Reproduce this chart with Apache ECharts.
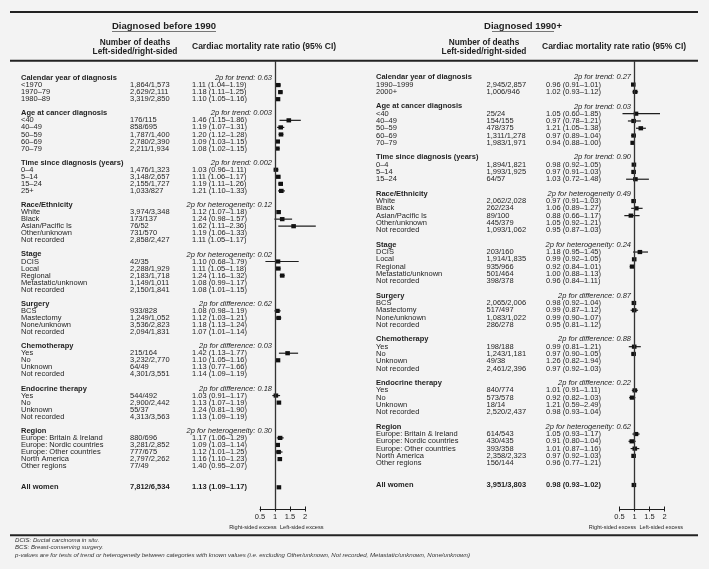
<!DOCTYPE html>
<html><head><meta charset="utf-8">
<script src="https://cdn.jsdelivr.net/npm/echarts@6/dist/echarts.min.js"></script>
<style>html,body{margin:0;padding:0;background:#f3f3f3}#c{width:709px;height:569px}</style>
</head><body><div id="c"></div>
<script>
// ---------- DATA ----------
const groupNames = ["Calendar year of diagnosis","Age at cancer diagnosis","Time since diagnosis (years)","Race/Ethnicity","Stage","Surgery","Chemotherapy","Endocrine therapy","Region"];

// Diagnosed before 1990
const pBefore = ["2p for trend: 0.63","2p for trend: 0.003","2p for trend: 0.002","2p for heterogeneity: 0.12","2p for heterogeneity: 0.02","2p for difference: 0.62","2p for difference: 0.03","2p for difference: 0.18","2p for heterogeneity: 0.30"];
const catsBefore = [["<1970","1970–79","1980–89"],["<40","40–49","50–59","60–69","70–79"],["0–4","5–14","15–24","25+"],["White","Black","Asian/Pacific Is","Other/unknown","Not recorded"],["DCIS","Local","Regional","Metastatic/unknown","Not recorded"],["BCS","Mastectomy","None/unknown","Not recorded"],["Yes","No","Unknown","Not recorded"],["Yes","No","Unknown","Not recorded"],["Europe: Britain & Ireland","Europe: Nordic countries","Europe: Other countries","North America","Other regions"]];
const deathsBefore = ["1,864/1,573","2,629/2,111","3,319/2,850","176/115","858/695","1,787/1,400","2,780/2,390","2,211/1,934","1,476/1,323","3,148/2,657","2,155/1,727","1,033/827","3,974/3,348","173/137","76/52","731/570","2,858/2,427","42/35","2,288/1,929","2,183/1,718","1,149/1,011","2,150/1,841","933/828","1,249/1,052","3,536/2,823","2,094/1,831","215/164","3,232/2,770","64/49","4,301/3,551","544/492","2,900/2,442","55/37","4,313/3,563","880/696","3,281/2,852","777/675","2,797/2,262","77/49"];
const rrBefore = [1.11,1.18,1.10, 1.46,1.19,1.20,1.09,1.08, 1.03,1.11,1.19,1.21, 1.12,1.24,1.62,1.19,1.11, 1.10,1.11,1.24,1.08,1.08, 1.08,1.12,1.18,1.07, 1.42,1.10,1.13,1.14, 1.03,1.13,1.24,1.13, 1.17,1.09,1.12,1.16,1.40];
const loBefore = [1.04,1.11,1.05, 1.15,1.07,1.12,1.03,1.02, 0.96,1.06,1.11,1.10, 1.07,0.98,1.11,1.06,1.05, 0.68,1.05,1.16,0.99,1.01, 0.98,1.03,1.13,1.01, 1.13,1.05,0.77,1.09, 0.91,1.07,0.81,1.09, 1.06,1.03,1.01,1.10,0.95];
const hiBefore = [1.19,1.25,1.16, 1.86,1.31,1.28,1.15,1.15, 1.11,1.17,1.26,1.33, 1.18,1.57,2.36,1.33,1.17, 1.79,1.18,1.32,1.17,1.15, 1.19,1.21,1.24,1.14, 1.77,1.16,1.66,1.19, 1.17,1.19,1.90,1.19, 1.29,1.14,1.25,1.23,2.07];
const shownBefore = [1,1,1, 1,1,1,1,1, 1,1,1,1, 1,1,1,0,0, 1,1,1,0,0, 1,1,0,0, 1,1,0,0, 1,1,0,0, 1,1,1,1,0];
const totalBefore = {deaths:"7,812/6,534", rr:1.13, lo:1.09, hi:1.17};

// Diagnosed 1990+
const pAfter = ["2p for trend: 0.27","2p for trend: 0.03","2p for trend: 0.90","2p for heterogeneity 0.49","2p for heterogeneity: 0.24","2p for difference: 0.87","2p for difference: 0.88","2p for difference: 0.22","2p for heterogeneity: 0.62"];
const catsAfter = [["1990–1999","2000+"],["<40","40–49","50–59","60–69","70–79"],["0–4","5–14","15–24"],["White","Black","Asian/Pacific Is","Other/unknown","Not recorded"],["DCIS","Local","Regional","Metastatic/unknown","Not recorded"],["BCS","Mastectomy","None/unknown","Not recorded"],["Yes","No","Unknown","Not recorded"],["Yes","No","Unknown","Not recorded"],["Europe: Britain & Ireland","Europe: Nordic countries","Europe: Other countries","North America","Other regions"]];
const deathsAfter = ["2,945/2,857","1,006/946","25/24","154/155","478/375","1,311/1,278","1,983/1,971","1,894/1,821","1,993/1,925","64/57","2,062/2,028","262/234","89/100","445/379","1,093/1,062","203/160","1,914/1,835","935/966","501/464","398/378","2,065/2,006","517/497","1,083/1,022","286/278","198/188","1,243/1,181","49/38","2,461/2,396","840/774","573/578","18/14","2,520/2,437","614/543","430/435","393/358","2,358/2,323","156/144"];
const rrAfter = [0.96,1.02, 1.05,0.97,1.21,0.97,0.94, 0.98,0.97,1.03, 0.97,1.06,0.88,1.05,0.95, 1.18,0.99,0.92,1.00,0.96, 0.98,0.99,0.99,0.95, 0.99,0.97,1.26,0.97, 1.01,0.92,1.21,0.98, 1.05,0.91,1.01,0.97,0.96];
const loAfter = [0.91,0.93, 0.60,0.78,1.05,0.89,0.88, 0.92,0.91,0.72, 0.91,0.89,0.66,0.92,0.87, 0.95,0.92,0.84,0.88,0.84, 0.92,0.87,0.90,0.81, 0.81,0.90,0.82,0.92, 0.91,0.82,0.59,0.93, 0.93,0.80,0.87,0.92,0.77];
const hiAfter = [1.01,1.12, 1.85,1.21,1.38,1.04,1.00, 1.05,1.03,1.48, 1.03,1.27,1.17,1.21,1.03, 1.45,1.05,1.01,1.13,1.11, 1.04,1.12,1.07,1.12, 1.21,1.05,1.94,1.03, 1.11,1.03,2.49,1.04, 1.17,1.04,1.16,1.03,1.21];
const shownAfter = [1,1, 1,1,1,1,1, 1,1,1, 1,1,1,0,0, 1,1,1,0,0, 1,1,0,0, 1,1,0,0, 1,1,0,0, 1,1,1,1,0];
const totalAfter = {deaths:"3,951/3,803", rr:0.98, lo:0.93, hi:1.02};

const axisTicks = [0.5, 1, 1.5, 2];

// ---------- BUILD ----------
const FONT = '"Liberation Sans", Arial, Helvetica, sans-serif';
const INK = '#1e1e1e';
function ciText(r,l,h){return r.toFixed(2)+' ('+l.toFixed(2)+'–'+h.toFixed(2)+')';}

function buildPanel(pArr, cats, deaths, rr, lo, hi, shown, total){
  const rows=[], marks=[];
  let idx=0, k=0;
  groupNames.forEach((g,gi)=>{
    rows.push({row:idx, kind:'header', label:g, p:pArr[gi]}); idx++;
    cats[gi].forEach(c=>{
      rows.push({row:idx, kind:'cat', label:c, deaths:deaths[k], ci:ciText(rr[k],lo[k],hi[k])});
      if(shown[k]) marks.push([rr[k],lo[k],hi[k],idx]);
      idx++; k++;
    });
    idx++;
  });
  idx++;
  rows.push({row:idx, kind:'total', label:'All women', deaths:total.deaths, ci:ciText(total.rr,total.lo,total.hi)});
  marks.push([total.rr,total.lo,total.hi,idx]);
  return {rows, marks, last:idx};
}
const P = [
  buildPanel(pBefore,catsBefore,deathsBefore,rrBefore,loBefore,hiBefore,shownBefore,totalBefore),
  buildPanel(pAfter,catsAfter,deathsAfter,rrAfter,loAfter,hiAfter,shownAfter,totalAfter)
];
// layout constants
const GT=61, GH=448;
const L = [
  {gridLeft:260, y0:78, y1:487.3, xl:21, xd:130, xc:192, xp:272},
  {gridLeft:619.5, y0:77.3, y1:485, xl:376, xd:486.5, xc:546, xp:631}
];
const FS=7.5;

const grids=[], xAxes=[], yAxes=[], series=[];
P.forEach((pn,i)=>{
  const lay=L[i];
  const step=(lay.y1-lay.y0)/pn.last;
  const ymin=-(lay.y0-GT)/step, ymax=ymin+GH/step;
  grids.push({left:lay.gridLeft, width:45, top:GT, height:GH});
  xAxes.push({gridIndex:i, type:'value', min:0.5, max:2, interval:0.5, position:'bottom',
    axisLine:{show:true, onZero:false, lineStyle:{color:INK, width:1}},
    axisTick:{show:true, length:2.5, lineStyle:{color:INK, width:1}},
    axisLabel:{show:true, fontSize:7.5, fontFamily:FONT, color:INK, margin:4, formatter:v=>axisTicks.indexOf(v)>=0?String(v):''},
    splitLine:{show:false}});
  xAxes.push({gridIndex:i, type:'value', min:0.5, max:2, interval:0.5, position:'bottom',
    axisLine:{show:false, onZero:false}, axisTick:{show:true, inside:true, length:2.5, lineStyle:{color:INK, width:1}},
    axisLabel:{show:false}, splitLine:{show:false}});
  yAxes.push({gridIndex:i, type:'value', inverse:true, min:ymin, max:ymax, show:false});

  // markers + CIs
  series.push({type:'custom', xAxisIndex:2*i, yAxisIndex:i, clip:false, silent:true,
    data:pn.marks, encode:{x:[0,1,2], y:3},
    renderItem:(params,api)=>{
      const c=api.coord([api.value(0),api.value(3)]);
      const a=api.coord([api.value(1),api.value(3)]);
      const b=api.coord([api.value(2),api.value(3)]);
      const s=4.6;
      return {type:'group', children:[
        {type:'line', shape:{x1:a[0],y1:a[1],x2:b[0],y2:b[1]}, style:{stroke:INK, lineWidth:1.2}},
        {type:'rect', shape:{x:c[0]-s/2, y:c[1]-s/2+0.2, width:s, height:s-0.4}, style:{fill:'#111'}}
      ]};
    },
    markLine:{silent:true, symbol:['none','none'], label:{show:false},
      lineStyle:{color:'#333', width:1.3, type:'solid'}, data:[{xAxis:1}]}
  });

  // text table
  series.push({type:'custom', xAxisIndex:2*i, yAxisIndex:i, clip:false, silent:true,
    data:pn.rows.map(r=>[1,r.row]), encode:{x:0,y:1},
    renderItem:(params,api)=>{
      const r=pn.rows[params.dataIndex];
      const y=api.coord([1,r.row])[1];
      const t=(text,x,opt)=>({type:'text', style:Object.assign({text, x, y, fontSize:FS, fontFamily:FONT, fill:INK, verticalAlign:'middle', align:'left'}, opt||{})});
      const ch=[];
      if(r.kind==='header'){
        ch.push(t(r.label, lay.xl, {fontWeight:'bold'}));
        ch.push(t(r.p, lay.xp, {fontStyle:'italic', align:'right'}));
      } else {
        const fw = r.kind==='total'?'bold':'normal';
        ch.push(t(r.label, lay.xl, {fontWeight:fw}));
        ch.push(t(r.deaths, lay.xd, {fontWeight:fw}));
        ch.push(t(r.ci, lay.xc, {fontWeight:fw}));
      }
      return {type:'group', children:ch};
    }
  });
});

// decorations (rules, headings, notes)
const graphic=[];
[12, 60.7, 535.3].forEach(y=>graphic.push({type:'line', shape:{x1:10,y1:y,x2:698,y2:y}, style:{stroke:'#222', lineWidth:2}, silent:true}));
const heads=[{t:'Diagnosed before 1990', cx:164, nx:135, cc:192, x1:275},{t:'Diagnosed 1990+', cx:523, nx:484, cc:542, x1:634.5}];
heads.forEach(h=>{
  graphic.push({type:'text', style:{text:h.t, x:h.cx, y:26, align:'center', verticalAlign:'middle', fontSize:9.5, fontWeight:'bold', fontFamily:FONT, fill:INK}});
  graphic.push({type:'text', style:{text:'Number of deaths', x:h.nx, y:43, align:'center', verticalAlign:'middle', fontSize:8.3, fontWeight:'bold', fontFamily:FONT, fill:INK}});
  graphic.push({type:'text', style:{text:'Left-sided/right-sided', x:h.nx, y:52, align:'center', verticalAlign:'middle', fontSize:8.3, fontWeight:'bold', fontFamily:FONT, fill:INK}});
  graphic.push({type:'text', style:{text:'Cardiac mortality rate ratio (95% CI)', x:h.cc, y:47, align:'left', verticalAlign:'middle', fontSize:8.5, fontWeight:'bold', fontFamily:FONT, fill:INK}});
  graphic.push({type:'text', style:{text:'Right-sided excess', x:h.x1+1.5, y:527, align:'right', verticalAlign:'middle', fontSize:5.6, fontFamily:FONT, fill:INK}});
  graphic.push({type:'text', style:{text:'Left-sided excess', x:h.x1+5, y:527, align:'left', verticalAlign:'middle', fontSize:5.6, fontFamily:FONT, fill:INK}});
});
graphic.push({type:'line', shape:{x1:112,y1:31.5,x2:216,y2:31.5}, style:{stroke:'#555', lineWidth:0.8}});
graphic.push({type:'line', shape:{x1:492,y1:31.5,x2:554,y2:31.5}, style:{stroke:'#555', lineWidth:0.8}});
const notes=['DCIS: Ductal carcinoma in situ.','BCS: Breast-conserving surgery.','p-values are for tests of trend or heterogeneity between categories with known values (i.e. excluding Other/unknown, Not recorded, Metastatic/unknown, None/unknown)'];
notes.forEach((n,i)=>graphic.push({type:'text', style:{text:n, x:15, y:540+i*7.6, align:'left', verticalAlign:'middle', fontSize:6.1, fontStyle:'italic', fontFamily:FONT, fill:'#333'}}));

const chart=echarts.init(document.getElementById('c'),null,{renderer:'canvas'});
chart.setOption({backgroundColor:'#f3f3f3', animation:false, grid:grids, xAxis:xAxes, yAxis:yAxes, series, graphic});
</script></body></html>
